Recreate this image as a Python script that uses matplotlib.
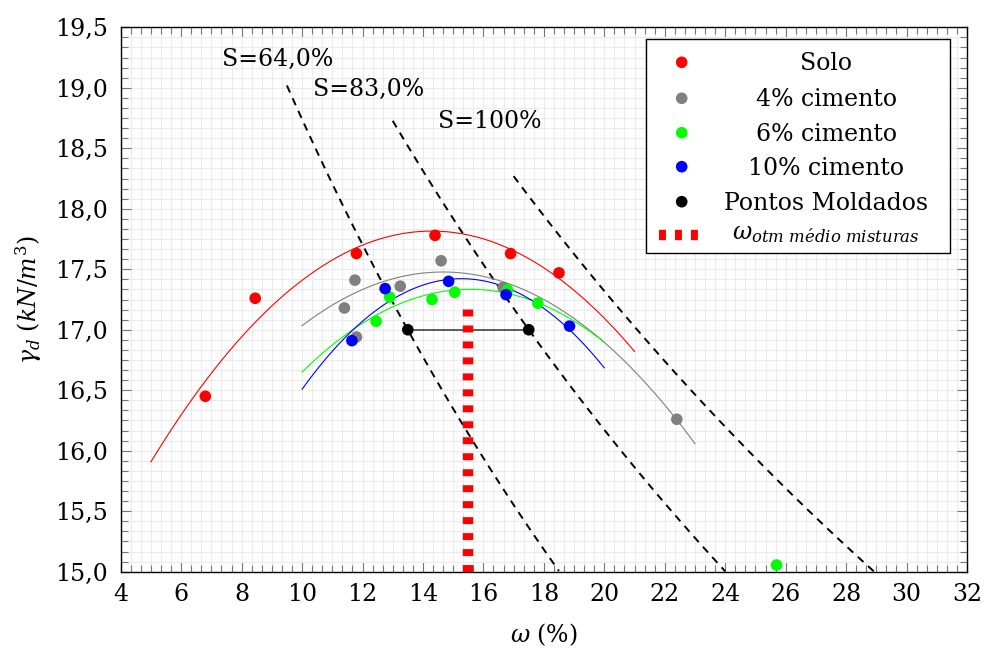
import numpy as np
import matplotlib
matplotlib.use("Agg")
import matplotlib.pyplot as plt
from matplotlib.ticker import AutoMinorLocator, FixedLocator, FuncFormatter
from matplotlib.patches import Rectangle
from matplotlib.lines import Line2D

plt.rcParams['font.family'] = ['DejaVu Serif']
plt.rcParams['mathtext.fontset'] = 'dejavuserif'
plt.rcParams['lines.scale_dashes'] = False

# ---------------- data ----------------
solo_w = [6.8, 8.45, 11.8, 14.4, 16.9, 18.5]
solo_g = [16.45, 17.26, 17.63, 17.78, 17.63, 17.47]

c4_w = [11.4, 11.75, 11.8, 13.25, 14.6, 16.65, 22.4]
c4_g = [17.18, 17.41, 16.94, 17.36, 17.57, 17.35, 16.26]
c4_in_fit = [True, True, False, True, True, True, True]

c6_w = [12.45, 12.9, 14.3, 15.05, 16.8, 17.8, 25.7]
c6_g = [17.07, 17.27, 17.25, 17.31, 17.33, 17.22, 15.055]

c10_w = [11.65, 12.75, 14.85, 16.75, 18.85]
c10_g = [16.91, 17.34, 17.40, 17.29, 17.03]

moldados_w = [13.5, 17.5]
moldados_g = [17.0, 17.0]

w_otm_medio = 15.5
w_otm_top = 17.2

# fit ranges (w, %)
fit_ranges = {'solo': (5, 21), 'c4': (10, 23), 'c6': (10, 20), 'c10': (10, 20)}

# saturation curves
Gs = 2.65
gamma_w = 10.0
sat_levels = [0.64, 0.83, 1.00]
sat_w_ranges = [(9.5, 18.5), (13.0, 24.0), (17.0, 28.93)]
sat_labels = ['S=64,0%', 'S=83,0%', 'S=100%']
sat_label_pos = [(7.36, 19.18), (10.37, 18.93), (14.49, 18.67)]

xticks = list(range(4, 33, 2))
yticks = [15.0, 15.5, 16.0, 16.5, 17.0, 17.5, 18.0, 18.5, 19.0, 19.5]

# ---------------- figure ----------------
fig = plt.figure(figsize=(9.84, 6.48), dpi=100)
ax = fig.add_axes([120.7/984, 1-571.7/648, 846.3/984, 544.4/648])
ax.set_xlim(4, 32)
ax.set_ylim(15, 19.5)

ax.xaxis.set_major_locator(FixedLocator(xticks))
ax.yaxis.set_major_locator(FixedLocator(yticks))
ax.xaxis.set_minor_locator(AutoMinorLocator(6))
ax.yaxis.set_minor_locator(AutoMinorLocator(6))
ax.xaxis.set_major_formatter(FuncFormatter(lambda v, p: f"{v:.0f}"))
ax.yaxis.set_major_formatter(FuncFormatter(lambda v, p: f"{v:.1f}".replace('.', ',')))

ax.grid(True, which='both', color='#ebebeb', lw=0.8)
ax.set_axisbelow(True)
ax.tick_params(which='both', direction='in', top=True, right=True,
               color='#777777', width=0.8, labelsize=17)
ax.tick_params(which='major', length=7.5)
ax.tick_params(which='minor', length=4.8)
ax.tick_params(axis='x', pad=8)
ax.tick_params(axis='y', pad=9)
for s in ax.spines.values():
    s.set_color('black')
    s.set_linewidth(1.0)

# saturation lines
for S, (w0, w1), lab, (tx, ty) in zip(sat_levels, sat_w_ranges, sat_labels, sat_label_pos):
    ww = np.linspace(w0, w1, 100)
    gg = Gs * gamma_w / (1 + (ww / 100) * Gs / S)
    ax.plot(ww, gg, color='black', lw=1.4, dashes=(5.5, 4.5), zorder=2)
    ax.text(tx, ty, lab, fontsize=17, ha='left', va='baseline', zorder=5)

# fits
series = [('solo', solo_w, solo_g, '#ff0000', None),
          ('c4', c4_w, c4_g, '#808080', c4_in_fit),
          ('c6', c6_w, c6_g, '#00ff00', None),
          ('c10', c10_w, c10_g, '#0000ff', None)]
for key, w, g, col, mask in series:
    w_a = np.asarray(w)
    g_a = np.asarray(g)
    if mask is not None:
        m = np.asarray(mask)
        w_a, g_a = w_a[m], g_a[m]
    coef = np.polyfit(w_a, g_a, 2)
    x0, x1 = fit_ranges[key]
    xx = np.linspace(x0, x1, 200)
    ax.plot(xx, np.polyval(coef, xx), color=col, lw=0.8, zorder=3)

# molded points line
ax.plot(moldados_w, moldados_g, color='#333333', lw=1.1, zorder=3)

# scatter
msz = 70
for key, w, g, col, _ in series:
    ax.scatter(w, g, s=msz, color=col, edgecolors='none', zorder=4)
ax.scatter(moldados_w, moldados_g, s=msz, color='black', edgecolors='none', zorder=4)

# red dashed vertical
ax.plot([w_otm_medio, w_otm_medio], [15.0, w_otm_top], color='#ff0000', lw=7.5,
        dashes=(5, 6.5), solid_capstyle='butt', dash_capstyle='butt', zorder=3)

# labels
ax.set_xlabel(r'$\omega$ (%)', fontsize=17)
ax.set_ylabel(r'$\gamma_d\ (kN/m^3)$', fontsize=17)
ax.xaxis.set_label_coords(0.5, -(635-571.7)/544.4)
ax.xaxis.label.set_va('center')
ax.yaxis.set_label_coords(-(120.7-44)/846.3, 0.5)

# manual legend (centered text like the reference)
def fx(px):
    return (px - 120.7) / 846.3

def fy(py):
    return (571.7 - py) / 544.4

ax.add_patch(Rectangle((fx(645.7), fy(252.7)), fx(950) - fx(645.7), fy(39) - fy(252.7),
                       transform=ax.transAxes, facecolor='white', edgecolor='black',
                       lw=1.0, zorder=6))
leg_items = [('Solo', '#ff0000'), ('4% cimento', '#808080'), ('6% cimento', '#00ff00'),
             ('10% cimento', '#0000ff'), ('Pontos Moldados', 'black')]
row_py = [62.3, 98.3, 132.7, 166.7, 201.7, 235.0]
for (lab, col), py in zip(leg_items, row_py):
    ax.scatter([fx(681.7)], [fy(py)], s=msz, color=col, edgecolors='none',
               transform=ax.transAxes, zorder=7, clip_on=False)
    ax.text(fx(826), fy(py + 8), lab, fontsize=17, ha='center', va='baseline',
            transform=ax.transAxes, zorder=7)
ax.add_line(Line2D([fx(659), fx(700)], [fy(235), fy(235)], color='#ff0000', lw=7.5,
                   dashes=(5, 6.5), dash_capstyle='butt', transform=ax.transAxes, zorder=7))
ax.text(fx(826), fy(239.5), r'$\omega_{otm\ m\acute{e}dio\ misturas}$', fontsize=17,
        ha='center', va='baseline', transform=ax.transAxes, zorder=7)

fig.savefig('out.png', dpi=100)
